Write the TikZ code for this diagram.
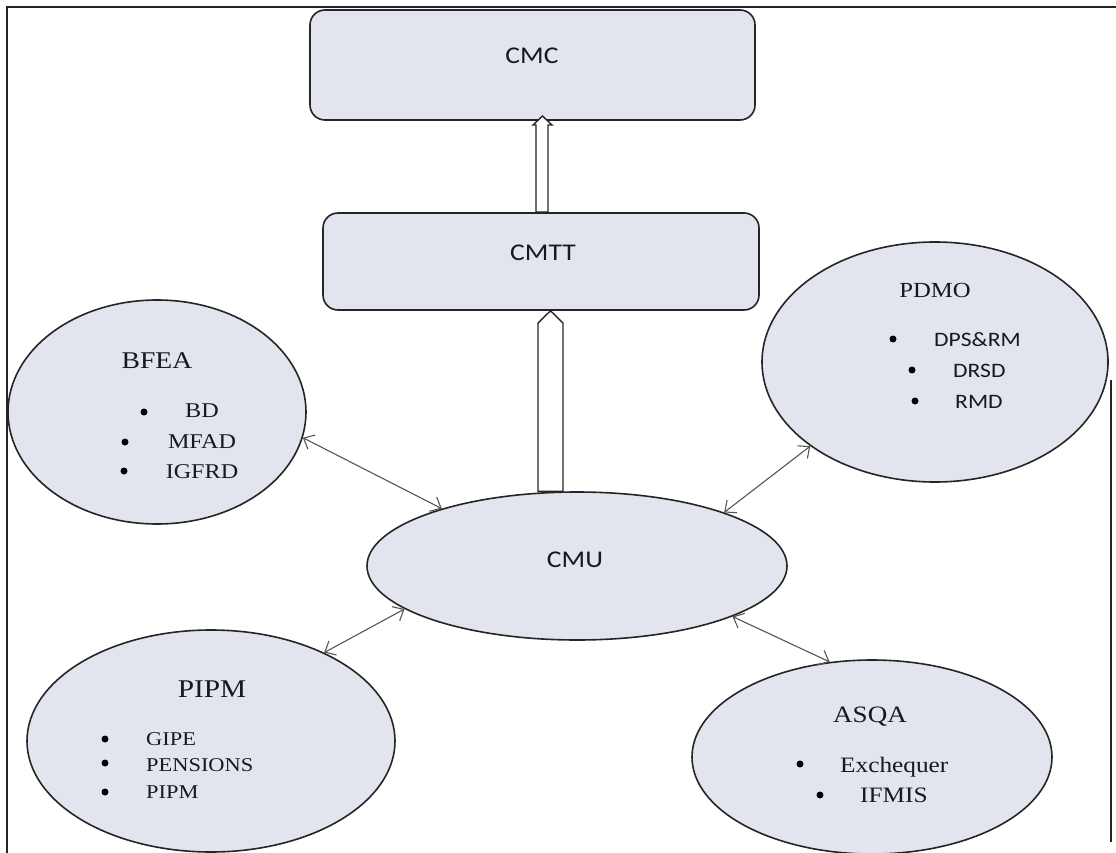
\documentclass[tikz,border=0pt]{standalone}
\usepackage{fontspec}
\setmainfont[FakeStretch=1.15]{Liberation Serif}
\newfontfamily\calib[FakeStretch=1.15]{Carlito}
\usetikzlibrary{shapes.geometric,arrows.meta}
\definecolor{shapefill}{HTML}{E2E4EE}
\definecolor{edgecol}{HTML}{252525}
\definecolor{linkcol}{HTML}{555555}
\tikzset{
  blob/.style={ellipse, draw=edgecol, line width=1.6pt, fill=shapefill, inner sep=0pt},
  boxnode/.style={rectangle, rounded corners=15pt, draw=edgecol, line width=1.6pt, fill=shapefill, inner sep=0pt},
  txt/.style={inner sep=0pt, anchor=base, text=black!90},
  txtl/.style={inner sep=0pt, anchor=base west, text=black!90},
  dotb/.style={circle, fill=black, inner sep=0pt, minimum size=7pt},
  link/.style={draw=linkcol, line width=1.1pt, {Straight Barb[length=9pt,width=16pt]}-{Straight Barb[length=9pt,width=16pt]}},
  hollow/.style={draw=edgecol, line width=1.4pt, fill=white, line join=miter}
}
\begin{document}
\begin{tikzpicture}[x=1pt,y=-1pt]
\useasboundingbox (0,0) rectangle (1116,853);
% frame
\draw[edgecol, line width=1.5pt] (7,853) -- (7,7) -- (1116,7);
\draw[edgecol, line width=1.5pt] (1111,380) -- (1111,842);

% boxes
\node[boxnode, minimum width=445pt, minimum height=110pt] (cmc) at (532.5,65) {};
\node[txt, font=\calib\fontsize{24}{28}\selectfont] (cmctext) at (532,64) {CMC};
\node[boxnode, minimum width=436pt, minimum height=97pt] (cmtt) at (541,261.5) {};
\node[txt, font=\calib\fontsize{24}{28}\selectfont] (cmtttext) at (543,260) {CMTT};

% ellipses
\node[blob, minimum width=420pt, minimum height=148pt] (cmu) at (577,566) {};
\node[txt, font=\calib\fontsize{24}{28}\selectfont] (cmutext) at (575,567) {CMU};

\node[blob, minimum width=298pt, minimum height=224pt] (bfea) at (157,412) {};
\node[txt, font=\fontsize{24}{28}\selectfont] (bfeatext) at (157,368) {BFEA};
\node[dotb] (b1) at (144,412) {};
\node[txt, font=\fontsize{21}{25}\selectfont] (bd) at (202,417) {BD};
\node[dotb] (b2) at (125,442) {};
\node[txt, font=\fontsize{21}{25}\selectfont] (mfad) at (202,448) {MFAD};
\node[dotb] (b3) at (124,471) {};
\node[txt, font=\fontsize{21}{25}\selectfont] (igfrd) at (202,478) {IGFRD};

\node[blob, minimum width=346pt, minimum height=240pt] (pdmo) at (935,362) {};
\node[txt, font=\fontsize{21.5}{25}\selectfont] (pdmotext) at (935,297) {PDMO};
\node[dotb] (p1) at (893,339) {};
\node[txtl, font=\calib\fontsize{20.5}{24}\selectfont] (dps) at (934,346) {DPS\&RM};
\node[dotb] (p2) at (912,370) {};
\node[txtl, font=\calib\fontsize{20.5}{24}\selectfont] (drsd) at (953,377) {DRSD};
\node[dotb] (p3) at (915,401) {};
\node[txtl, font=\calib\fontsize{20.5}{24}\selectfont] (rmd) at (955,408) {RMD};

\node[blob, minimum width=368pt, minimum height=222pt] (pipm) at (211,741) {};
\node[txt, font=\fontsize{25.5}{29}\selectfont] (pipmtext) at (212,697) {PIPM};
\node[dotb] (q1) at (105,739) {};
\node[txtl, font=\fontsize{19.5}{23}\selectfont] (gipe) at (146,745) {GIPE};
\node[dotb] (q2) at (105,763) {};
\node[txtl, font=\fontsize{19.5}{23}\selectfont] (pens) at (146,771) {PENSIONS};
\node[dotb] (q3) at (105,792) {};
\node[txtl, font=\fontsize{19.5}{23}\selectfont] (pipmitem) at (146,798) {PIPM};

\node[blob, minimum width=360pt, minimum height=194pt] (asqa) at (872,757) {};
\node[txt, font=\fontsize{23.5}{27}\selectfont] (asqatext) at (870,722) {ASQA};
\node[dotb] (a1) at (800,764) {};
\node[txtl, font=\fontsize{22}{26}\selectfont] (exch) at (840,772) {Exchequer};
\node[dotb] (a2) at (820,795) {};
\node[txtl, font=\fontsize{22}{26}\selectfont] (ifmis) at (860,802) {IFMIS};

% hollow block arrows
\draw[hollow] (538,0 |- cmu.north) -- (538,323) -- (550.5,0 |- cmtt.south) -- (563,323) -- (563,0 |- cmu.north) -- cycle;
\draw[hollow] (536,0 |- cmtt.north) -- (536,125) -- (533,125) -- (542.5,116) -- (552,125) -- (548,125) -- (548,0 |- cmtt.north) -- cycle;

% links
\draw[link] (bfea.-10) -- (cmu.157.7);
\draw[link] (pdmo.214.9) -- (cmu.20.3);
\draw[link] (pipm.38.5) -- (cmu.194);
\draw[link] (asqa.114.4) -- (cmu.-18.4);
\end{tikzpicture}
\end{document}
